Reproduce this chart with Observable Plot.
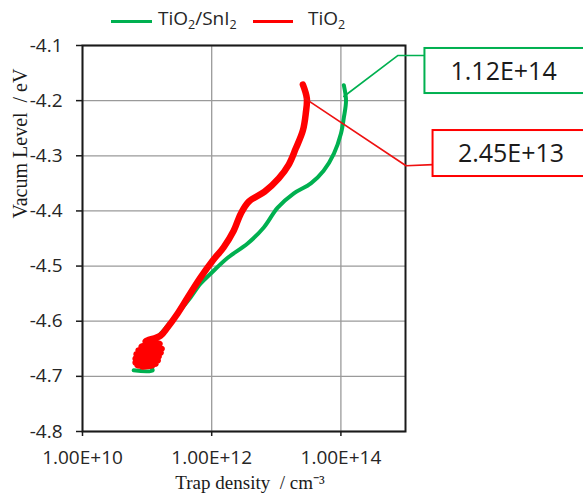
<!DOCTYPE html>
<html><head><meta charset="utf-8">
<script src="https://cdn.jsdelivr.net/npm/d3@7"></script>
<script src="https://cdn.jsdelivr.net/npm/@observablehq/plot@0.6"></script>
<style>
body{margin:0;background:#fff;font-family:"Open Sans",sans-serif;}
#wrap{position:relative;width:583px;}
#legend{position:relative;height:35px;font-size:19px;color:#262626;}
.sw{position:absolute;top:20px;height:3px;}
.lt{position:absolute;top:7px;line-height:22px;white-space:nowrap;}
.lt sub{font-size:0.66em;vertical-align:-0.3em;line-height:0;}
</style></head><body>
<div id="wrap">
<div id="legend">
  <div class="sw" style="left:111px;width:41px;background:#00b050"></div>
  <div class="lt" style="left:158px">TiO<sub>2</sub>/SnI<sub>2</sub></div>
  <div class="sw" style="left:253px;width:40px;background:#ff0000"></div>
  <div class="lt" style="left:308px">TiO<sub>2</sub></div>
</div>
<div id="chart"></div>
</div>
<script>
// TiO2/SnI2 curve (trap density cm^-3, vacuum level eV)
const greenDensity = [1.11e14, 1.20e14, 1.11e14, 1.0e14, 7.8e13, 5.4e13, 3.43e13, 1.87e13, 1.05e13, 6.4e12, 3.6e12, 1.77e12, 9.6e11, 6.7e11, 4.7e11, 2.97e11, 1.80e11, 1.13e11, 9.5e10, 1.22e11, 6.2e10];
const greenLevel   = [-4.172, -4.200, -4.231, -4.260, -4.296, -4.327, -4.350, -4.368, -4.394, -4.430, -4.459, -4.485, -4.514, -4.532, -4.557, -4.586, -4.617, -4.644, -4.671, -4.689, -4.689];
// TiO2 curve (upper branch, then the noisy cluster at low density)
const redDensity = [2.58e13, 2.97e13, 2.86e13, 2.58e13, 2.0e13, 1.56e13, 1.09e13, 6.6e12, 3.75e12, 2.82e12, 2.19e12, 1.53e12, 1.04e12, 6.7e11, 4.25e11, 2.97e11, 2.08e11, 1.62e11,
  9.48e10, 1.56e11, 8.22e10, 1.68e11, 7.38e10, 1.62e11, 6.87e10, 1.51e11, 6.64e10, 1.46e11, 6.64e10, 1.35e11, 7.13e10, 1.22e11, 8.51e10];
const redLevel   = [-4.171, -4.196, -4.223, -4.254, -4.287, -4.316, -4.341, -4.365, -4.383, -4.405, -4.436, -4.466, -4.490, -4.521, -4.557, -4.586, -4.611, -4.626,
  -4.637, -4.641, -4.646, -4.650, -4.653, -4.657, -4.660, -4.664, -4.668, -4.671, -4.675, -4.677, -4.680, -4.680, -4.682];

const xTicks = [1e10, 1e12, 1e14];
const yTicks = [-4.1, -4.2, -4.3, -4.4, -4.5, -4.6, -4.7, -4.8];
const seriesNames = ["TiO2/SnI2", "TiO2"];
const calloutLabels = ["1.12E+14", "2.45E+13"];

// callout geometry (in data units)
const greenLeaderX = [1.11e14, 7.66e14, 2.0e15];
const greenLeaderY = [-4.1925, -4.118, -4.118];
const redLeaderX = [2.77e13, 1.02e15, 2.67e15];
const redLeaderY = [-4.196, -4.318, -4.316];

const green = greenDensity.map((d, i) => ({x: d, y: greenLevel[i]}));
const red = redDensity.map((d, i) => ({x: d, y: redLevel[i]}));
const gLead = greenLeaderX.map((d, i) => ({x: d, y: greenLeaderY[i]}));
const rLead = redLeaderX.map((d, i) => ({x: d, y: redLeaderY[i]}));
const boxes = [
  {x1: 2.0e15, x2: 1e18, y1: -4.1054, y2: -4.1871, tx: 3.3e16, ty: -4.148, label: calloutLabels[0], c: "#00b050"},
  {x1: 2.67e15, x2: 1e18, y1: -4.2542, y2: -4.3376, tx: 4.3e16, ty: -4.297, label: calloutLabels[1], c: "#ff0000"}
];

const fmtX = d => d.toExponential(2).toUpperCase();
const fmtY = d => d.toFixed(1);

const chart = Plot.plot({
  width: 583,
  height: 462,
  marginTop: 10,
  marginBottom: 66,
  marginLeft: 82,
  marginRight: 178,
  style: {fontFamily: "Open Sans", fontSize: "16px", color: "#262626", background: "#fff", overflow: "visible"},
  x: {type: "log", domain: [1e10, 1e15]},
  y: {domain: [-4.8, -4.1]},
  marks: [
    Plot.gridX(xTicks, {stroke: "#9a9a9a", strokeOpacity: 1, strokeWidth: 1.3}),
    Plot.gridY(yTicks, {stroke: "#9a9a9a", strokeOpacity: 1, strokeWidth: 1.3}),
    Plot.frame({stroke: "#1a1a1a", strokeWidth: 2}),
    Plot.line(green, {x: "x", y: "y", stroke: "#00b050", strokeWidth: 4, curve: "catmull-rom"}),
    Plot.line(red, {x: "x", y: "y", stroke: "#ff0000", strokeWidth: 6.5, curve: "catmull-rom"}),
    Plot.line(gLead, {x: "x", y: "y", stroke: "#00b050", strokeWidth: 1.6}),
    Plot.line(rLead, {x: "x", y: "y", stroke: "#ee1111", strokeWidth: 1.6}),
    Plot.rect(boxes, {x1: "x1", x2: "x2", y1: "y1", y2: "y2", fill: "#fff", stroke: "c", strokeWidth: 2}),
    Plot.text(boxes, {x: "tx", y: "ty", text: "label", fontSize: 25, fill: "#1a1a1a", fontFamily: "Open Sans"}),
    Plot.axisX(xTicks, {tickSize: 5, tickFormat: () => "", label: null, stroke: "#1a1a1a", strokeWidth: 1.5}),
    Plot.axisY(yTicks, {tickSize: 6, tickFormat: () => "", label: null, stroke: "#1a1a1a", strokeWidth: 1.5}),
    Plot.text(xTicks, {x: d => d, frameAnchor: "bottom", dy: 32, text: fmtX, fontSize: 19, fill: "#262626", fontFamily: "Open Sans"}),
    Plot.text(yTicks, {y: d => d, frameAnchor: "left", dx: -20, textAnchor: "end", text: fmtY, fontSize: 19, fill: "#262626", fontFamily: "Open Sans"}),
    Plot.text(["Trap density  / cm⁻³"], {frameAnchor: "bottom", dx: 6, dy: 57, fontFamily: "Liberation Serif", fontSize: 19, fill: "#1a1a1a"}),
    Plot.text(["Vacum Level  / eV"], {frameAnchor: "left", rotate: -90, dx: -62, dy: -20, fontFamily: "Liberation Serif", fontSize: 20, fill: "#1a1a1a"})
  ]
});
document.getElementById("chart").appendChild(chart);
</script>
</body></html>
